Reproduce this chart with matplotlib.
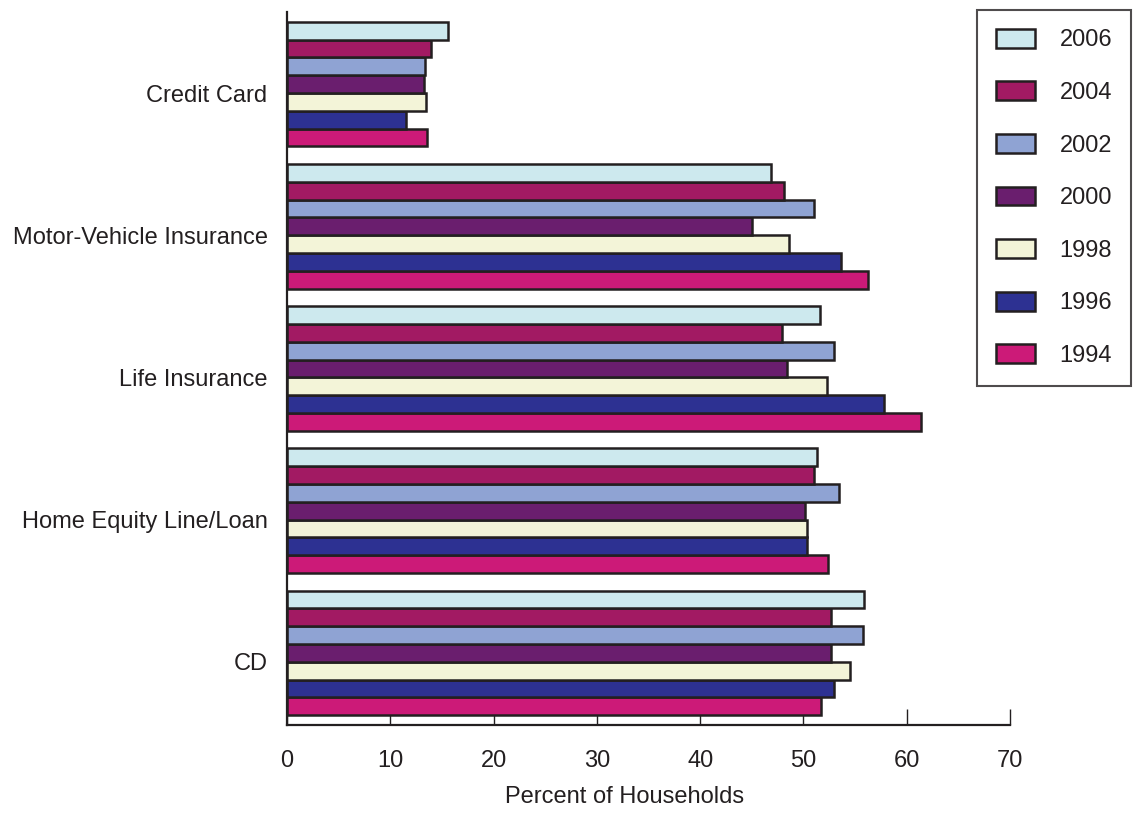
import numpy as np
import matplotlib
matplotlib.use("Agg")
import matplotlib.pyplot as plt

plt.rcParams['font.family'] = ['Liberation Sans', 'DejaVu Sans']

# categories from bottom to top
categories = ["CD", "Home Equity Line/Loan", "Life Insurance",
              "Motor-Vehicle Insurance", "Credit Card"]
years = ["1994", "1996", "1998", "2000", "2002", "2004", "2006"]

# percent of households, one list per year, same order as categories
pct_1994 = [51.7, 52.4, 61.4, 56.3, 13.6]
pct_1996 = [53.0, 50.3, 57.8, 53.6, 11.5]
pct_1998 = [54.5, 50.3, 52.3, 48.6, 13.5]
pct_2000 = [52.7, 50.2, 48.4, 45.0, 13.3]
pct_2002 = [55.8, 53.4, 53.0, 51.0, 13.4]
pct_2004 = [52.7, 51.0, 47.9, 48.1, 13.9]
pct_2006 = [55.9, 51.3, 51.6, 46.9, 15.6]
series = [pct_1994, pct_1996, pct_1998, pct_2000, pct_2002, pct_2004, pct_2006]

colors = ["#CC1A78", "#2D3192", "#F3F4D8", "#6A1E6E",
          "#8FA3D3", "#A21A63", "#CDE9EE"]
edge = "#231F20"
txt = "#231F20"
fs = 17

fig = plt.figure(figsize=(11.46, 8.13), dpi=100)
ax = fig.add_axes([287 / 1146, 88 / 813, 723 / 1146, 713 / 813])

slot = 8  # 7 bars + 1 gap per category
base = np.arange(len(categories)) * slot
handles = []
for j, (vals, col) in enumerate(zip(series, colors)):
    h = ax.barh(base + j, vals, height=1.0, color=col, edgecolor=edge,
                linewidth=1.8, zorder=2)
    handles.append(h)

ax.set_xlim(0, 70)
ax.set_ylim(-1.06, (len(categories) - 1) * slot + 6.5 + 0.56)
ax.set_xticks(np.arange(0, 71, 10))
ax.set_yticks(base + 2.5)
ax.set_yticklabels(categories)

ax.tick_params(axis='x', direction='in', length=11.5, width=1.0,
               colors=edge, labelcolor=txt, labelsize=fs, pad=18)
ax.tick_params(axis='y', length=0, labelsize=fs, labelcolor=txt, pad=14)
for t in ax.get_xticklines():
    t.set_zorder(5)

for s in ['top', 'right']:
    ax.spines[s].set_visible(False)
for s in ['left', 'bottom']:
    ax.spines[s].set_color(edge)
    ax.spines[s].set_linewidth(1.6)
    ax.spines[s].set_zorder(6)

ax.set_xlabel("Percent of Households", fontsize=fs, color=txt)
ax.xaxis.set_label_coords((625 - 287) / 723, -0.086)

leg = fig.legend(handles[::-1], years[::-1], loc='upper left',
                 bbox_to_anchor=(977 / 1146, 1 - 10 / 813),
                 borderaxespad=0, frameon=True, fancybox=False,
                 fontsize=fs, handlelength=1.65, handleheight=0.85,
                 handletextpad=1.05, labelspacing=1.27, borderpad=0.8)
leg.get_frame().set_edgecolor(edge)
leg.get_frame().set_linewidth(1.5)
for t in leg.get_texts():
    t.set_color(txt)

fig.savefig("out.png", dpi=100)
